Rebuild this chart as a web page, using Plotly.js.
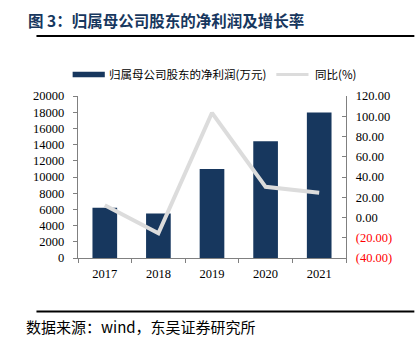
<!DOCTYPE html>
<html>
<head>
<meta charset="utf-8">
<script src="https://cdn.plot.ly/plotly-3.0.1.min.js"></script>
<style>
html,body{margin:0;padding:0;background:#fff;}
#chart{width:419px;height:344px;}
</style>
</head>
<body>
<div id="chart"></div>
<script>
const years = ['2017', '2018', '2019', '2020', '2021'];
const netProfit = [6200, 5500, 11000, 14400, 17950];
const yoyGrowth = [12, -15.5, 103.4, 30.3, 24.4];
const leftTicks = [0, 2000, 4000, 6000, 8000, 10000, 12000, 14000, 16000, 18000, 20000];
const rightTicks = [-40, -20, 0, 20, 40, 60, 80, 100, 120];
const barName = '归属母公司股东的净利润(万元)';
const lineName = '同比(%)';
const titleText = '图 3：归属母公司股东的净利润及增长率';
const sourceText = '数据来源：wind，东吴证券研究所';

const pad = '\u00a0\u00a0';
const rightTickText = rightTicks.map(v => pad + (v < 0
  ? '<span style="color:#ff0000">(' + Math.abs(v).toFixed(2) + ')</span>'
  : v.toFixed(2)));
const leftTickText = leftTicks.map(v => String(v) + pad);

const serif = '"Liberation Serif", "Times New Roman", serif';
const cjk = '"Noto Sans CJK SC", sans-serif';
const navy = '#17375e';

const traces = [
  {
    type: 'bar', x: years, y: netProfit, name: barName,
    marker: {color: navy}, width: 0.46, yaxis: 'y', showlegend: false
  },
  {
    type: 'scatter', mode: 'lines', x: years, y: yoyGrowth, name: lineName,
    line: {color: '#dcdcdc', width: 4}, yaxis: 'y2', showlegend: false
  }
];

const layout = {
  width: 419, height: 344,
  margin: {l: 78, r: 73, t: 96, b: 86},
  paper_bgcolor: '#fff', plot_bgcolor: '#fff',
  showlegend: false,
  font: {family: serif, size: 12, color: '#000'},
  xaxis: {
    type: 'category', showline: true, linecolor: '#808080', linewidth: 1,
    ticks: 'outside', tickson: 'boundaries', ticklen: 4, tickcolor: '#808080',
    showgrid: false, zeroline: false, ticklabelstandoff: 4,
    tickfont: {family: serif, size: 12.5, color: '#000'}
  },
  yaxis: {
    range: [0, 20000], tickvals: leftTicks, ticktext: leftTickText,
    showline: true, linecolor: '#808080', linewidth: 1,
    ticks: 'outside', ticklen: 4, tickcolor: '#808080',
    showgrid: false, zeroline: false,
    tickfont: {family: serif, size: 12.5, color: '#000'}
  },
  yaxis2: {
    overlaying: 'y', side: 'right', range: [-40, 120],
    tickvals: rightTicks, ticktext: rightTickText,
    showline: true, linecolor: '#808080', linewidth: 1,
    ticks: 'inside', ticklen: 4, tickcolor: '#808080',
    showgrid: false, zeroline: false,
    tickfont: {family: serif, size: 12.5, color: '#000'}
  },
  shapes: [
    {type: 'line', xref: 'paper', yref: 'paper', x0: -0.155, x1: 1.255, y0: 1.37, y1: 1.37,
     line: {color: '#000', width: 2}},
    {type: 'line', xref: 'paper', yref: 'paper', x0: -0.155, x1: 1.255, y0: -0.33, y1: -0.33,
     line: {color: '#000', width: 2}},
    {type: 'rect', xref: 'paper', yref: 'paper', x0: -0.02, x1: 0.1, y0: 1.115, y1: 1.15,
     fillcolor: navy, line: {width: 0}},
    {type: 'line', xref: 'paper', yref: 'paper', x0: 0.74, x1: 0.86, y0: 1.133, y1: 1.133,
     line: {color: '#dcdcdc', width: 3}}
  ],
  annotations: [
    {xref: 'paper', yref: 'paper', x: -0.195, y: 1.47, xanchor: 'left', yanchor: 'middle',
     text: '<b>' + titleText + '</b>', showarrow: false,
     font: {family: cjk, size: 15.5, color: navy}},
    {xref: 'paper', yref: 'paper', x: -0.2, y: -0.42, xanchor: 'left', yanchor: 'middle',
     text: sourceText, showarrow: false,
     font: {family: cjk, size: 15, color: '#000'}},
    {xref: 'paper', yref: 'paper', x: 0.11, y: 1.133, xanchor: 'left', yanchor: 'middle',
     text: barName, showarrow: false,
     font: {family: cjk, size: 11.5, color: '#000'}},
    {xref: 'paper', yref: 'paper', x: 0.875, y: 1.133, xanchor: 'left', yanchor: 'middle',
     text: lineName, showarrow: false,
     font: {family: cjk, size: 11.5, color: '#000'}}
  ]
};

Plotly.newPlot('chart', traces, layout, {displayModeBar: false, staticPlot: true});
</script>
</body>
</html>
